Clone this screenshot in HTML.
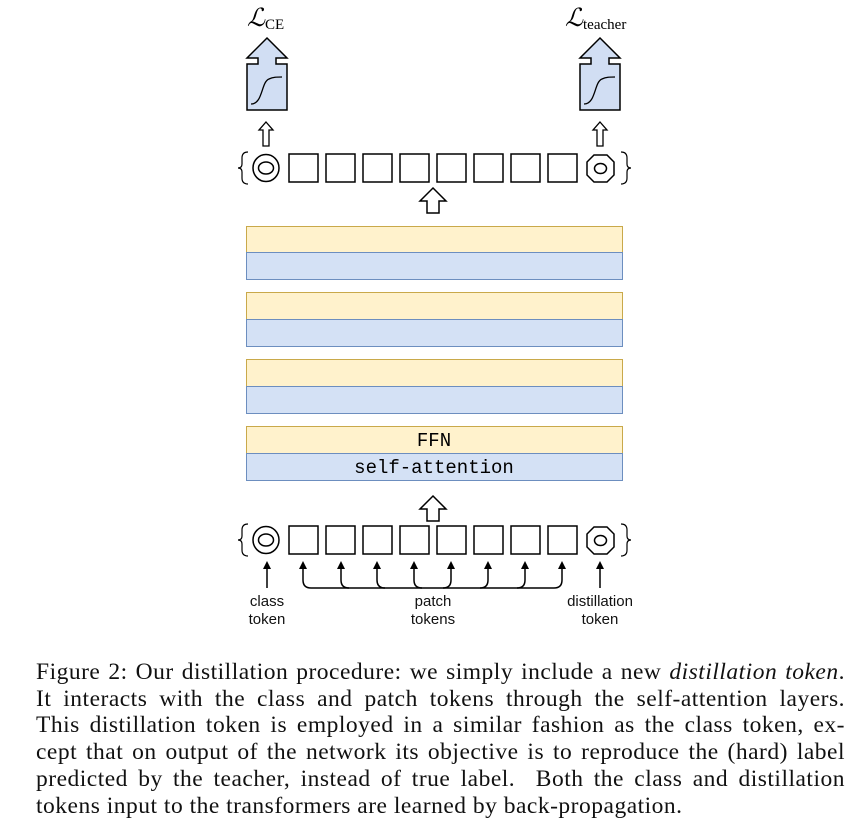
<!DOCTYPE html>
<html><head><meta charset="utf-8"><style>
body{margin:0;background:#fff;width:862px;height:833px;overflow:hidden;position:relative}
svg{position:absolute;left:0;top:0}
.cap{position:absolute;left:36px;top:659px;width:809px;font-family:"Liberation Serif",serif;font-size:23.5px;letter-spacing:0.5px;line-height:26.7px;color:#111}
.cap div{text-align:justify;text-align-last:justify;white-space:nowrap}
.cap div.l{text-align-last:left}
</style></head><body>
<svg width="862" height="640" viewBox="0 0 862 640" font-family="Liberation Sans,sans-serif">
<defs>
<g id="row">
 <path d="M248,-1 Q242,-1 242,5 L242,11 Q242,15 238,15 Q242,15 242,19 L242,25 Q242,31 248,31" fill="none" stroke="#000" stroke-width="1.2"/>
 <ellipse cx="266" cy="15" rx="13" ry="13.5" fill="#fff" stroke="#000" stroke-width="1.5"/>
 <ellipse cx="266" cy="15" rx="7.5" ry="6" fill="#fff" stroke="#000" stroke-width="1.5"/>
 <g fill="#fff" stroke="#000" stroke-width="1.5">
 <rect x="289" y="1" width="29" height="28"/><rect x="326" y="1" width="29" height="28"/>
 <rect x="363" y="1" width="29" height="28"/><rect x="400" y="1" width="29" height="28"/>
 <rect x="437" y="1" width="29" height="28"/><rect x="474" y="1" width="29" height="28"/>
 <rect x="511" y="1" width="29" height="28"/><rect x="548" y="1" width="29" height="28"/>
 <polygon points="594,2 607,2 614,9 614,22 607,29 594,29 587,22 587,9"/>
 <ellipse cx="600.5" cy="15.5" rx="6" ry="5"/>
 </g>
 <path d="M621,-1 Q627,-1 627,5 L627,11 Q627,15 631,15 Q627,15 627,19 L627,25 Q627,31 621,31" fill="none" stroke="#000" stroke-width="1.2"/>
</g>
<path id="hollow" d="M0,0 L13,13 L6,13 L6,25 L-6,25 L-6,13 L-13,13 Z" fill="#fff" stroke="#000" stroke-width="1.5"/>
<path id="small" d="M0,0 L7,8 L3,8 L3,24 L-3,24 L-3,8 L-7,8 Z" fill="#fff" stroke="#000" stroke-width="1.3"/>
<g id="loss">
 <path d="M0,0 L20,20 L9,20 L9,26 L20,26 L20,72 L-20,72 L-20,26 L-9,26 L-9,20 L-20,20 Z" fill="#d1def3" stroke="#000" stroke-width="1.5"/>
 <path d="M-16,66 C-4,66 -6,44 2,41 C6,39 10,39 15,39" fill="none" stroke="#000" stroke-width="1.3"/>
</g>
</defs>
<text x="247" y="26" font-family="Liberation Serif,serif" font-style="italic" font-size="25">ℒ<tspan font-style="normal" font-size="15" dy="3">CE</tspan></text>
<text x="565" y="26" font-family="Liberation Serif,serif" font-style="italic" font-size="25">ℒ<tspan font-style="normal" font-size="15" dy="3">teacher</tspan></text>
<use href="#loss" x="267" y="38"/>
<use href="#loss" x="600" y="38"/>
<use href="#small" x="266" y="122"/>
<use href="#small" x="600" y="122"/>
<use href="#row" x="0" y="153"/>
<use href="#hollow" x="433" y="188"/>
<g stroke="#c9a94a" stroke-width="1">
<rect x="246.5" y="226.5" width="376" height="26" fill="#fff2cc"/>
<rect x="246.5" y="292.5" width="376" height="27" fill="#fff2cc"/>
<rect x="246.5" y="359.5" width="376" height="27" fill="#fff2cc"/>
<rect x="246.5" y="426.5" width="376" height="27" fill="#fff2cc"/>
</g>
<g stroke="#6c8ebf" stroke-width="1">
<rect x="246.5" y="252.5" width="376" height="27" fill="#d4e1f5"/>
<rect x="246.5" y="319.5" width="376" height="27" fill="#d4e1f5"/>
<rect x="246.5" y="386.5" width="376" height="27" fill="#d4e1f5"/>
<rect x="246.5" y="453.5" width="376" height="27" fill="#d4e1f5"/>
</g>
<text x="434" y="446" text-anchor="middle" font-family="Liberation Mono,monospace" font-size="19">FFN</text>
<text x="434" y="473" text-anchor="middle" font-family="Liberation Mono,monospace" font-size="19">self-attention</text>
<use href="#hollow" x="433" y="496"/>
<use href="#row" x="0" y="525"/>
<g stroke="#000" stroke-width="1.5" fill="none">
<line x1="267" y1="588" x2="267" y2="568"/>
<line x1="600" y1="588" x2="600" y2="568"/>
<path d="M303,568 L303,580 Q303,588 311,588 L554,588 Q562,588 562,580 L562,568"/>
<path d="M341,568 L341,580 Q341,588 349,588 M377,568 L377,580 Q377,588 385,588 M414,568 L414,580 Q414,588 422,588 M451,568 L451,580 Q451,588 443,588 M488,568 L488,580 Q488,588 480,588 M525,568 L525,580 Q525,588 517,588"/>
</g>
<g fill="#000">
<path d="M303,561 l-4,8 h8z"/><path d="M341,561 l-4,8 h8z"/><path d="M377,561 l-4,8 h8z"/><path d="M414,561 l-4,8 h8z"/>
<path d="M451,561 l-4,8 h8z"/><path d="M488,561 l-4,8 h8z"/><path d="M525,561 l-4,8 h8z"/><path d="M562,561 l-4,8 h8z"/>
<path d="M267,561 l-4,8 h8z"/><path d="M600,561 l-4,8 h8z"/>
</g>
<g font-size="15" text-anchor="middle" fill="#111">
<text x="267" y="606">class</text><text x="267" y="624">token</text>
<text x="433" y="606">patch</text><text x="433" y="624">tokens</text>
<text x="600" y="606">distillation</text><text x="600" y="624">token</text>
</g>
</svg>
<div class="cap">
<div>Figure 2: Our distillation procedure: we simply include a new <i>distillation token</i>.</div>
<div>It interacts with the class and patch tokens through the self-attention layers.</div>
<div>This distillation token is employed in a similar fashion as the class token, ex-</div>
<div>cept that on output of the network its objective is to reproduce the (hard) label</div>
<div>predicted by the teacher, instead of true label. &nbsp;Both the class and distillation</div>
<div class="l">tokens input to the transformers are learned by back-propagation.</div>
</div>
</body></html>
